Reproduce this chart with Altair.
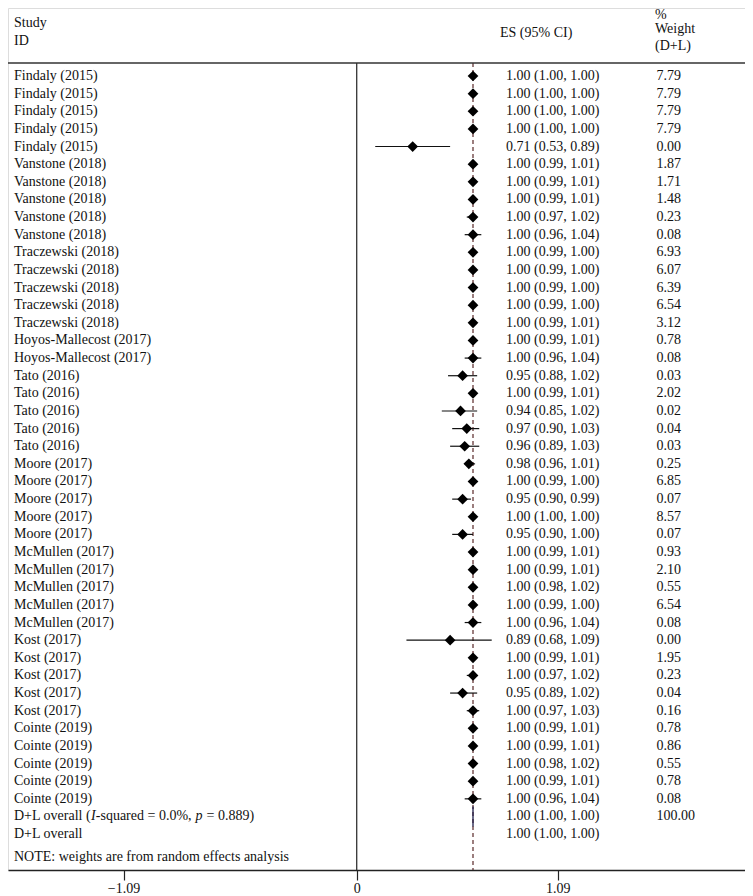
import altair as alt
import pandas as pd

# ---------------- data ----------------
studies = (["Findaly (2015)"] * 5 + ["Vanstone (2018)"] * 5 + ["Traczewski (2018)"] * 5
           + ["Hoyos-Mallecost (2017)"] * 2 + ["Tato (2016)"] * 5 + ["Moore (2017)"] * 5
           + ["McMullen (2017)"] * 5 + ["Kost (2017)"] * 5 + ["Cointe (2019)"] * 5)
es = [1.00, 1.00, 1.00, 1.00, 0.71,
      1.00, 1.00, 1.00, 1.00, 1.00,
      1.00, 1.00, 1.00, 1.00, 1.00,
      1.00, 1.00,
      0.95, 1.00, 0.94, 0.97, 0.96,
      0.98, 1.00, 0.95, 1.00, 0.95,
      1.00, 1.00, 1.00, 1.00, 1.00,
      0.89, 1.00, 1.00, 0.95, 1.00,
      1.00, 1.00, 1.00, 1.00, 1.00]
lo = [1.00, 1.00, 1.00, 1.00, 0.53,
      0.99, 0.99, 0.99, 0.97, 0.96,
      0.99, 0.99, 0.99, 0.99, 0.99,
      0.99, 0.96,
      0.88, 0.99, 0.85, 0.90, 0.89,
      0.96, 0.99, 0.90, 1.00, 0.90,
      0.99, 0.99, 0.98, 0.99, 0.96,
      0.68, 0.99, 0.97, 0.89, 0.97,
      0.99, 0.99, 0.98, 0.99, 0.96]
hi = [1.00, 1.00, 1.00, 1.00, 0.89,
      1.01, 1.01, 1.01, 1.02, 1.04,
      1.00, 1.00, 1.00, 1.00, 1.01,
      1.01, 1.04,
      1.02, 1.01, 1.02, 1.03, 1.03,
      1.01, 1.00, 0.99, 1.00, 1.00,
      1.01, 1.01, 1.02, 1.00, 1.04,
      1.09, 1.01, 1.02, 1.02, 1.03,
      1.01, 1.01, 1.02, 1.01, 1.04]
weight = [7.79, 7.79, 7.79, 7.79, 0.00,
          1.87, 1.71, 1.48, 0.23, 0.08,
          6.93, 6.07, 6.39, 6.54, 3.12,
          0.78, 0.08,
          0.03, 2.02, 0.02, 0.04, 0.03,
          0.25, 6.85, 0.07, 8.57, 0.07,
          0.93, 2.10, 0.55, 6.54, 0.08,
          0.00, 1.95, 0.23, 0.04, 0.16,
          0.78, 0.86, 0.55, 0.78, 0.08]

overall_es = [1.00, 1.00]
overall_lo = [1.00, 1.00]
overall_hi = [1.00, 1.00]
overall_weight = ["100.00", ""]
i2_label_parts = ["D+L overall (", "I", "-squared = 0.0%,", "p", "= 0.889)"]
i2_label_italic = [False, True, False, True, False]
overall_label2 = "D+L overall"
note_text = "NOTE: weights are from random effects analysis"

# axis ticks as printed on the original figure (position in ES units, label)
tick_pos = [-0.680, 0.441, 1.407]
tick_labels = ["\u22121.09", "0", "1.09"]
null_line = [0.441]

# ---------------- tables ----------------
n = len(studies)
df = pd.DataFrame({
    "row": list(range(1, n + 1)),
    "study": studies, "es": es, "lo": lo, "hi": hi, "w": weight,
})
df["es_txt"] = [f"{a:.2f} ({b:.2f}, {c:.2f})" for a, b, c in zip(es, lo, hi)]
df["w_txt"] = [f"{v:.2f}" for v in weight]

ov = pd.DataFrame({
    "row": [n + 1, n + 2], "es": overall_es, "lo": overall_lo, "hi": overall_hi,
    "w_txt": overall_weight,
})
ov["es_txt"] = [f"{a:.2f} ({b:.2f}, {c:.2f})" for a, b, c in zip(overall_es, overall_lo, overall_hi)]
ov["r0"] = ov["row"] - 0.57
ov["r1"] = ov["row"] + 0.57

# label pieces for the I-squared line (approximate Times advance widths, 14px)
piece_offsets = [6, 83.1, 87.8, 187.6, 198.6]
pieces = pd.DataFrame({
    "text": i2_label_parts, "px": piece_offsets,
    "italic": i2_label_italic, "row": [n + 1] * len(i2_label_parts),
})

ticks_df = pd.DataFrame({"pos": null_line})

W, H = 737, 862
FONT = "Liberation Serif"
FS = 14

xscale = alt.Scale(domain=[-1.2356, 2.3077], nice=False, zero=False)
yscale = alt.Scale(domain=[-2.857, 46.036], reverse=True, nice=False, zero=False)

expr = (f"datum.value < {(tick_pos[0] + tick_pos[1]) / 2} ? '{tick_labels[0]}' : "
        f"datum.value < {(tick_pos[1] + tick_pos[2]) / 2} ? '{tick_labels[1]}' : '{tick_labels[2]}'")
xaxis = alt.Axis(values=tick_pos, labelExpr=expr, title=None, grid=False,
                 domain=True, domainColor="#222", domainWidth=1.3,
                 ticks=True, tickSize=10, tickColor="#222", tickWidth=1.2,
                 labelFont=FONT, labelFontSize=FS, labelColor="#111",
                 labelPadding=1, labelFlush=False, labelOverlap=False)


def X(field):
    return alt.X(field, type="quantitative", scale=xscale, axis=xaxis)


def Y(field):
    return alt.Y(field, type="quantitative", scale=yscale, axis=None)


# reference lines
dash = alt.Chart(ov.iloc[[0]]).mark_rule(color="#4a1414", strokeWidth=1.1,
                                          strokeDash=[4, 3]).encode(
    x=X("es"), y=alt.value(55), y2=alt.value(H))
zero_line = alt.Chart(ticks_df).mark_rule(color="#222", strokeWidth=1.2).encode(
    x=X("pos"), y=alt.value(55), y2=alt.value(H))
top_line = alt.Chart(ticks_df).mark_rule(color="#333", strokeWidth=1.4).encode(
    x=alt.value(0), x2=alt.value(W), y=alt.value(55))

# CI lines and diamonds
ci = alt.Chart(df).mark_rule(color="#111", strokeWidth=1.2).encode(
    x=X("lo"), x2="hi", y=Y("row"))
pts = alt.Chart(df).mark_point(shape="diamond", filled=True, size=115,
                               color="#000", opacity=1).encode(
    x=X("es"), y=Y("row"))
ov_diamond = alt.Chart(ov.iloc[[0]]).mark_rule(color="#1c1c4a", strokeWidth=1.3).encode(
    x=X("es"), y=Y("r0"), y2="r1")


# text columns
def txt(data, field, xpx, **kw):
    return alt.Chart(data).mark_text(align="left", baseline="middle", font=FONT,
                                     fontSize=FS, color="#111", **kw).encode(
        x=alt.value(xpx), y=Y("row"), text=field)


study_txt = txt(df, "study:N", 6)
es_txt = txt(df, "es_txt:N", 498)
w_txt = txt(df, "w_txt:N", 648.5)
ov_es_txt = txt(ov, "es_txt:N", 498)
ov_w_txt = txt(ov, "w_txt:N", 648.5)

ov_label_norm = alt.Chart(pieces[~pieces["italic"]]).mark_text(
    align="left", baseline="middle", font=FONT, fontSize=FS, color="#111").encode(
    x=alt.X("px:Q", scale=None), y=Y("row"), text="text:N")
ov_label_ital = alt.Chart(pieces[pieces["italic"]]).mark_text(
    align="left", baseline="middle", font=FONT, fontSize=FS, color="#111",
    fontStyle="italic").encode(
    x=alt.X("px:Q", scale=None), y=Y("row"), text="text:N")
ov_label2 = alt.Chart(ov.iloc[[1]].assign(lbl=overall_label2)).mark_text(
    align="left", baseline="middle", font=FONT, fontSize=FS, color="#111").encode(
    x=alt.value(6), y=Y("row"), text="lbl:N")

headers = pd.DataFrame({
    "text": ["Study", "ID", "ES (95% CI)", "Weight", "(D+L)", note_text],
    "px": [6, 6, 492, 647, 647, 6],
    "py": [15, 33, 25, 21, 38, 849],
})
head = alt.Chart(headers).mark_text(align="left", baseline="middle", font=FONT,
                                    fontSize=FS, color="#111").encode(
    x=alt.X("px:Q", scale=None), y=alt.Y("py:Q", scale=None), text="text:N")
pct = alt.Chart(pd.DataFrame({"text": ["%"], "px": [647], "py": [0]})).mark_text(
    align="left", baseline="top", font=FONT, fontSize=FS, color="#111").encode(
    x=alt.X("px:Q", scale=None), y=alt.Y("py:Q", scale=None), text="text:N")

chart = alt.layer(
    dash, zero_line, top_line, ci, ov_diamond, pts,
    study_txt, es_txt, w_txt, ov_es_txt, ov_w_txt,
    ov_label_norm, ov_label_ital, ov_label2, head, pct,
).properties(
    width=W, height=H,
    autosize=alt.AutoSizeParams(type="none"),
    padding={"left": 0, "top": 0, "right": 0, "bottom": 34},
).configure_view(stroke=None).configure(background="white")

chart.save("out.html", embed_options={"renderer": "svg", "actions": False})
